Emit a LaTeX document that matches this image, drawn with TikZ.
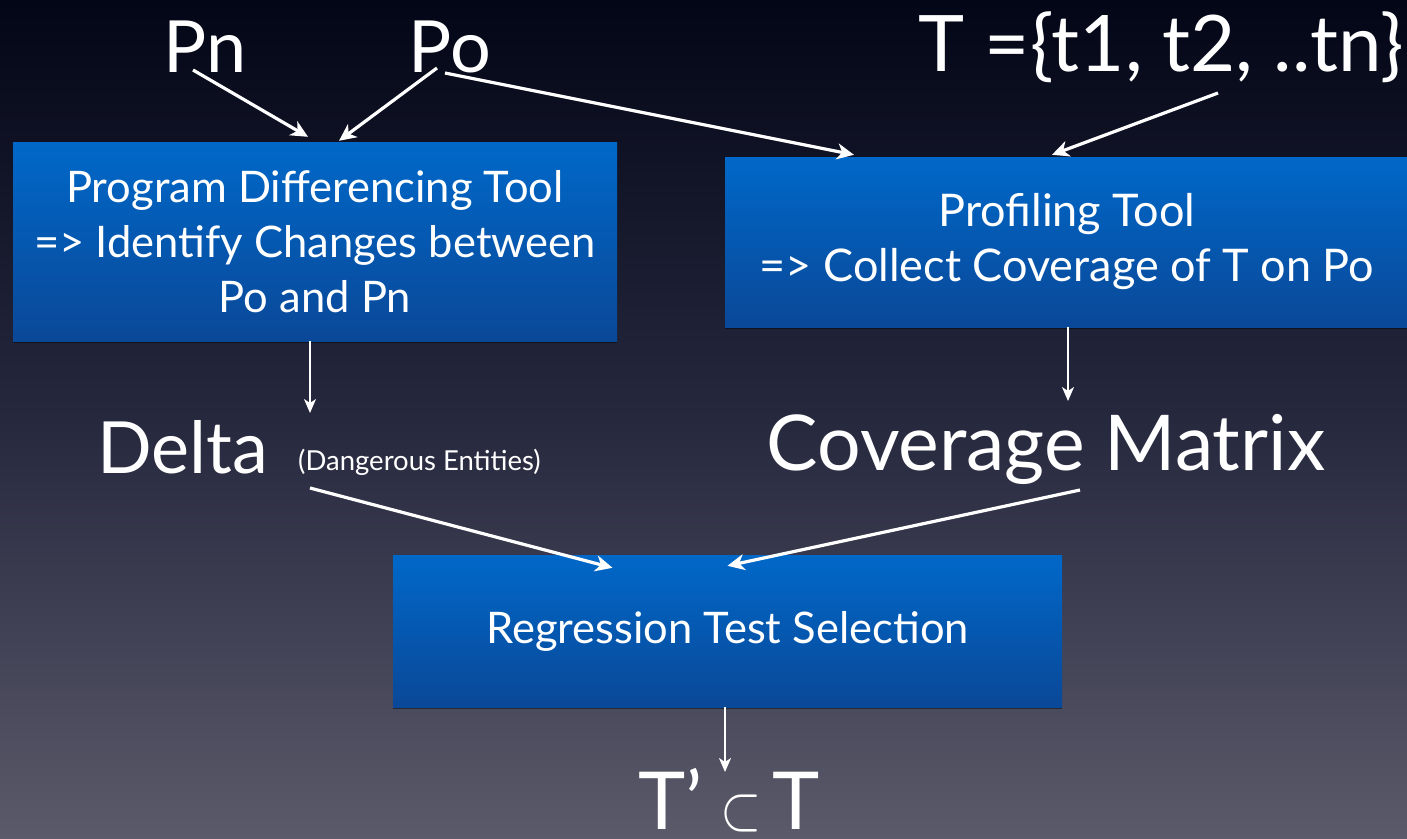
\documentclass[tikz,border=0pt]{standalone}
\usepackage{fontspec}
\setmainfont{Lato}
\usetikzlibrary{arrows.meta,shadows,calc}
\definecolor{bgtop}{RGB}{3,6,22}
\definecolor{bgmid}{RGB}{38,40,62}
\definecolor{bgbot}{RGB}{90,90,106}
\definecolor{boxtop}{RGB}{0,104,200}
\definecolor{boxbot}{RGB}{10,72,152}
\begin{document}
\begin{tikzpicture}[x=1pt,y=-1pt,
  bigtxt/.style={text=white,inner sep=0pt,anchor=base,font=\fontsize{72}{80}\selectfont},
  smalltxt/.style={text=white,inner sep=0pt,anchor=base west,font=\fontsize{27.5}{30}\selectfont},
  stepbox/.style={inner sep=0pt,top color=boxtop,bottom color=boxbot,text=white,align=center,
     font=\fontsize{43.5}{55}\selectfont,
     drop shadow={shadow xshift=0pt,shadow yshift=-2pt,opacity=0.45,fill=black}},
  arr/.style={draw=white,line width=3.2pt,-{Stealth[length=17pt,width=16pt,inset=5pt]}},
  varr/.style={draw=white,line width=2pt,-{Stealth[length=14pt,width=12pt,inset=4pt]}}]
\useasboundingbox (0,0) rectangle (1407,838);
\shade[top color=bgtop,bottom color=bgbot,middle color=bgmid] (0,0) rectangle (1407,838);

% top labels
\node[bigtxt] (pn) at (205,72) {Pn};
\node[bigtxt] (po) at (450,72) {Po};
\node[bigtxt,font=\fontsize{78}{86}\selectfont] (tset) at (1161,71) {T =\{t1, t2, ..tn\}};

% boxes
\node[stepbox,minimum width=604pt,minimum height=199pt] (box1) at (315,241.5)
  {Program Differencing Tool\\=> Identify Changes between\\Po and Pn};
\node[stepbox,font=\fontsize{45}{55}\selectfont,minimum width=684pt,minimum height=170pt] (box2) at (1067,242)
  {Profiling Tool\\=> Collect Coverage of T on Po};
\node[stepbox,minimum width=669pt,minimum height=152pt] (box3) at (727.5,631)
  {Regression Test Selection};

% middle labels
\node[bigtxt,anchor=base west] (delta) at (97,473) {Delta};
\node[smalltxt] (dang) at (298,470) {(Dangerous Entities)};
\node[bigtxt,font=\fontsize{77}{84}\selectfont] (cov) at (1046,470) {Coverage Matrix};

% result
\node[bigtxt,font=\fontsize{80}{88}\selectfont,text depth=0pt] (res) at (729,829)
  {T’\hspace{18pt}\scalebox{5.3}[6.4]{\normalsize$\subset$}\hspace{10pt}T};

% free ends
\coordinate (d1) at (310,413);
\coordinate (c1) at (1068,401);
\coordinate (r1) at (725,772);

% connectors
\draw[arr] ([shift={(-12,-2)}]pn.base) -- ([shift={(-7,-5)}]box1.north);
\draw[arr] ([shift={(-13,-4)}]po.base) -- ([shift={(24,-1)}]box1.north);
\draw[arr] ([shift={(-5,1)}]po.base) -- ([shift={(-213,-2)}]box2.north);
\draw[arr] ([shift={(57,22)}]tset.base) -- ([shift={(-15,-2)}]box2.north);
\draw[varr] ([xshift=-5pt]box1.south) -- (d1);
\draw[varr] ([xshift=1pt]box2.south) -- (c1);
\draw[arr] ([shift={(12,18)}]dang.base west) -- ([shift={(-115,13)}]box3.north);
\draw[arr] ([shift={(34,20)}]cov.base) -- ([shift={(0,11)}]box3.north);
\draw[varr] ([xshift=-2.5pt]box3.south) -- (r1);
\end{tikzpicture}
\end{document}
